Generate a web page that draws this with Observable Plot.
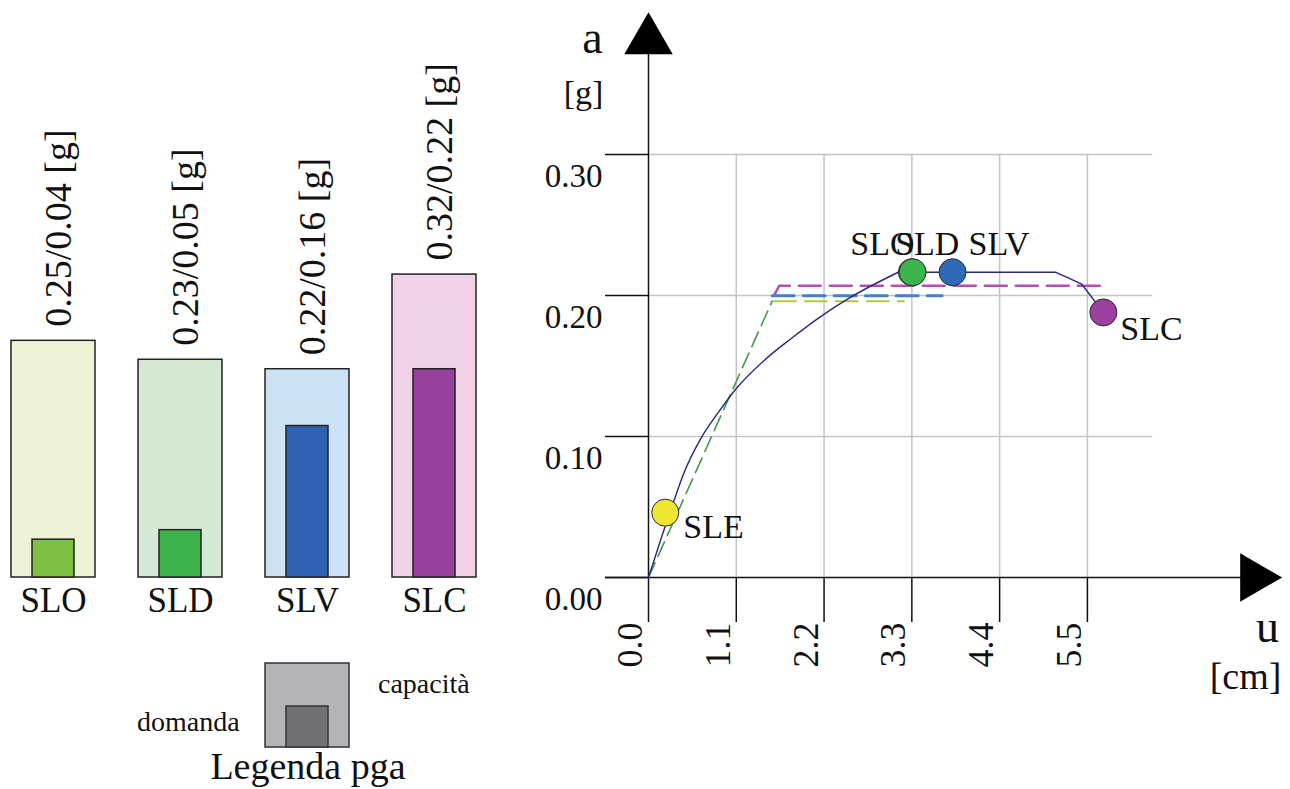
<!DOCTYPE html>
<html>
<head>
<meta charset="utf-8">
<script src="https://cdn.jsdelivr.net/npm/d3@7"></script>
<script src="https://cdn.jsdelivr.net/npm/@observablehq/plot@0.6"></script>
<style>
  body { margin: 0; background: #fff; }
  #chart { position: relative; width: 1290px; height: 789px; overflow: hidden; background: #fff;
           font-family: "Liberation Serif", "Times New Roman", serif; color: #111; }
  #chart > * { position: absolute; }
  #chart svg, #chart svg text { font-family: "Liberation Serif", "Times New Roman", serif !important; }
</style>
</head>
<body>
<div id="chart"></div>
<script>
// ---- PGA per limit state: capacity / demand [g] ----
const states = ["SLO", "SLD", "SLV", "SLC"];
const capacity = [0.25, 0.23, 0.22, 0.32];
const demand = [0.04, 0.05, 0.16, 0.22];
const capacityColor = ["#eef3d8", "#d4e9d2", "#cde1f4", "#f0d2e8"];
const demandColor = ["#7cc043", "#3bb24b", "#2f63b1", "#98409b"];

// ---- capacity curve: displacement u [cm] vs acceleration a [g] ----
const curveU = [0, 0.16, 0.31, 0.45, 0.65, 0.9, 1.1, 1.47, 1.8, 2.13, 2.54, 3.13, 5.10, 5.43, 5.70];
const curveA = [0, 0.028, 0.053, 0.075, 0.098, 0.119, 0.134, 0.155, 0.170, 0.184, 0.199, 0.2165, 0.2165, 0.208, 0.188];
const yieldU = 3.13; // end of the hardening branch [cm]

// limit-state points on the curve
const pointState = ["SLE", "SLO", "SLD", "SLV", "SLC"];
const pointU = [0.21, 3.30, 3.31, 3.81, 5.70];
const pointA = [0.046, 0.2165, 0.2165, 0.2165, 0.188];
const pointColor = ["#efe634", "#8cc63f", "#3cb44b", "#2f6ab8", "#9b409e"];

// idealised bilinear branches
const elasticU = [0, 1.55], elasticA = [0, 0.196];
const sloU = [1.57, 3.2], sloA = [0.196, 0.196];
const slvU = [1.55, 3.68], slvA = [0.1998, 0.1998];
const slcU = [1.57, 1.64, 5.69], slcA = [0.1998, 0.207, 0.207];

// axes
const uTicks = [0, 1.1, 2.2, 3.3, 4.4, 5.5];
const aTicks = [0, 0.1, 0.2, 0.3];
const gridEnd = 6.32;     // right end of horizontal grid [cm]
const uAxisStart = -0.54; // left end of the u axis line [cm]
const uArrow = 7.59;      // arrow head on the u axis [cm]
const aArrow = 0.381;     // arrow head on the a axis [g]

const chart = document.getElementById("chart");
const serif = `"Liberation Serif", "Times New Roman", serif`;
const baseStyle = { fontFamily: serif, fontSize: "33px", background: "none", overflow: "visible", color: "#111" };
const txt = { fontFamily: serif, fill: "#111" };

// ---------------- left: bars ----------------
const rows = states.map((s, i) => ({
  state: s, capacity: capacity[i], demand: demand[i],
  capColor: capacityColor[i], demColor: demandColor[i]
}));

const bars = Plot.plot({
  width: 540, height: 640,
  marginLeft: 10, marginRight: 63, marginTop: 9, marginBottom: 63,
  style: baseStyle,
  x: { domain: states, paddingInner: 0.337, paddingOuter: 0, label: null },
  y: { domain: [0, 0.6], axis: null, label: null },
  color: { type: "identity" },
  marks: [
    Plot.barY(rows, { x: "state", y: "capacity", fill: "capColor", stroke: "#222", strokeWidth: 1.5 }),
    Plot.barY(rows, { x: "state", y: "demand", fill: "demColor", stroke: "#222", strokeWidth: 1.5, insetLeft: 21, insetRight: 21 }),
    Plot.text(rows, {
      x: "state", y: "capacity",
      text: d => `${d.capacity.toFixed(2)}/${d.demand.toFixed(2)} [g]`,
      rotate: -90, textAnchor: "start", lineAnchor: "middle",
      dx: 5, dy: -14, fontSize: 38, ...txt
    }),
    Plot.axisX({ tickSize: 0, tickPadding: 10, fontSize: 35, label: null, ...txt })
  ]
});
bars.style.left = "0px";
bars.style.top = "0px";
chart.appendChild(bars);

// ---------------- right: capacity curve ----------------
const curve = curveU.map((u, i) => ({ u, a: curveA[i] }));
const points = pointState.map((s, i) => ({ state: s, u: pointU[i], a: pointA[i], color: pointColor[i] }));
const branch = (us, as) => us.map((u, i) => ({ u, a: as[i] }));

// label offsets around each point (px)
const labelOffset = {
  SLE: [18, 14], SLO: [-61.5, -28], SLD: [-17.5, -28], SLV: [16, -28], SLC: [17, 17]
};

const curvePlot = Plot.plot({
  width: 750, height: 700,
  marginLeft: 108, marginRight: 3.6, marginTop: 13, marginBottom: 123,
  style: baseStyle,
  x: { domain: [0, 8], label: null },
  y: { domain: [0, 0.4], label: null },
  color: { type: "identity" },
  marks: [
    // grid
    Plot.ruleY(aTicks.filter(v => v > 0), { x1: 0, x2: gridEnd, stroke: "#c4c4c4", strokeWidth: 1.5 }),
    Plot.ruleX(uTicks.filter(v => v > 0), { y1: 0, y2: 0.3, stroke: "#c4c4c4", strokeWidth: 1.5 }),
    // ticks
    Plot.axisY({ ticks: aTicks, tickSize: 43, fill: "none", stroke: "#111", strokeWidth: 1.5, label: null }),
    Plot.axisX({ ticks: uTicks, tickSize: 45, fill: "none", stroke: "#111", strokeWidth: 1.5, label: null }),
    // tick labels
    Plot.text(aTicks, { x: 0, y: d => d, text: d3.format(".2f"), textAnchor: "end", lineAnchor: "middle", dx: -46, dy: 22, fontSize: 33, ...txt }),
    Plot.text(uTicks, { x: d => d, frameAnchor: "bottom", text: d3.format(".1f"), rotate: -90, textAnchor: "end", lineAnchor: "middle", dx: -18, dy: 45, fontSize: 36, ...txt }),
    // axis lines and arrow heads
    Plot.ruleY([0], { x1: uAxisStart, x2: uArrow, stroke: "#111", strokeWidth: 1.5 }),
    Plot.ruleX([0], { y1: 0, y2: aArrow, stroke: "#111", strokeWidth: 1.5 }),
    Plot.dot([0], { x: 0, y: aArrow, symbol: "triangle", r: 18, fill: "#000", stroke: "none" }),
    Plot.dot([0], { x: uArrow, y: 0, symbol: "triangle", r: 18, rotate: 90, fill: "#000", stroke: "none" }),
    // axis titles
    Plot.text(["a"], { frameAnchor: "top-left", textAnchor: "middle", lineAnchor: "middle", dx: -56, dy: 25, fontSize: 46, ...txt }),
    Plot.text(["[g]"], { frameAnchor: "top-left", textAnchor: "middle", lineAnchor: "middle", dx: -65, dy: 80, fontSize: 34, ...txt }),
    Plot.text(["u"], { frameAnchor: "top-left", textAnchor: "middle", lineAnchor: "middle", dx: 619, dy: 614, fontSize: 46, ...txt }),
    Plot.text(["[cm]"], { frameAnchor: "top-left", textAnchor: "middle", lineAnchor: "middle", dx: 597, dy: 663, fontSize: 38, ...txt }),
    // bilinear branches
    Plot.line(branch(slcU, slcA), { x: "u", y: "a", stroke: "#b050b0", strokeWidth: 2.5, strokeDasharray: "22,9" }),
    Plot.line(branch(slvU, slvA), { x: "u", y: "a", stroke: "#3f84c8", strokeWidth: 3, strokeDasharray: "22,9" }),
    Plot.line(branch(sloU, sloA), { x: "u", y: "a", stroke: "#b3c63f", strokeWidth: 2, strokeDasharray: "22,9" }),
    Plot.line(branch(elasticU, elasticA), { x: "u", y: "a", stroke: "#3f9a4a", strokeWidth: 1.6, strokeDasharray: "16,7" }),
    // capacity curve: smooth hardening branch, then plateau and softening
    Plot.line(curve.filter(d => d.u <= yieldU), { x: "u", y: "a", stroke: "#28287c", strokeWidth: 1.4, curve: "monotone-x" }),
    Plot.line(curve.filter(d => d.u >= yieldU), { x: "u", y: "a", stroke: "#28287c", strokeWidth: 1.4 }),
    // limit-state points
    Plot.dot(points, { x: "u", y: "a", fill: "color", r: 13.5, stroke: "#2a2a2a", strokeWidth: 1 }),
    ...pointState.map(s => Plot.text(points.filter(p => p.state === s), {
      x: "u", y: "a", text: "state", textAnchor: "start", lineAnchor: "middle",
      dx: labelOffset[s][0], dy: labelOffset[s][1], fontSize: 34, ...txt
    }))
  ]
});
curvePlot.style.left = "540px";
curvePlot.style.top = "0px";
chart.appendChild(curvePlot);

// ---------------- legend ----------------
const legend = d3.create("svg")
  .attr("width", 400).attr("height", 160)
  .style("left", "110px").style("top", "630px")
  .style("overflow", "visible")
  .attr("font-family", serif).attr("fill", "#111");
legend.append("rect").attr("x", 155).attr("y", 33).attr("width", 84).attr("height", 84)
  .attr("fill", "#b4b4b8").attr("stroke", "#333").attr("stroke-width", 1.5);
legend.append("rect").attr("x", 176).attr("y", 76).attr("width", 42).attr("height", 41)
  .attr("fill", "#707075").attr("stroke", "#333").attr("stroke-width", 1.5);
legend.append("text").attr("x", 268).attr("y", 63).attr("font-size", 28).text("capacità");
legend.append("text").attr("x", 27).attr("y", 101).attr("font-size", 28).text("domanda");
legend.append("text").attr("x", 198).attr("y", 149).attr("font-size", 38).attr("text-anchor", "middle").text("Legenda pga");
chart.appendChild(legend.node());
</script>
</body>
</html>
